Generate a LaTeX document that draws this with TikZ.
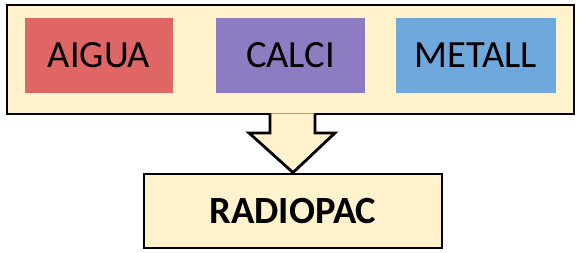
\documentclass[tikz,border=0pt]{standalone}
\usepackage{fontspec}
\setmainfont{Carlito}
\usetikzlibrary{calc}
\definecolor{cream}{HTML}{FFF2CC}
\definecolor{cred}{HTML}{E06666}
\definecolor{cpurple}{HTML}{8E7CC3}
\definecolor{cblue}{HTML}{6FA8DC}
\begin{document}
\begin{tikzpicture}[x=1pt,y=-1pt,
  outerbox/.style={draw=black,line width=2.8pt,fill=cream},
  itembox/.style={draw=none,inner sep=0pt,font=\fontsize{38.5}{38.5}\selectfont},
  resultbox/.style={draw=black,line width=2.8pt,fill=cream,inner sep=0pt,font=\bfseries\fontsize{38.5}{38.5}\selectfont},
  blockarrow/.style={draw=black,line width=2.8pt,fill=cream,line join=miter}]
\useasboundingbox (0,0) rectangle (578,252);
\node[outerbox,minimum width=567pt,minimum height=109pt,inner sep=0pt] (outer) at (290.5,59.5) {};
\node[itembox,fill=cred,minimum width=148pt,minimum height=75pt] (aigua) at (99,55.5) {AIGUA};
\node[itembox,fill=cpurple,minimum width=149pt,minimum height=75pt] (calci) at (290.5,55.5) {CALCI};
\node[itembox,fill=cblue,minimum width=160pt,minimum height=75pt] (metall) at (476,55.5) {METALL};
\node[resultbox,minimum width=298pt,minimum height=74pt] (radio) at (293,211) {RADIOPAC};
\draw[blockarrow] ($(outer.south)+(-20.5,-2)$) -- ($(outer.south)+(-20.5,17.5)$) -- ($(outer.south)+(-41.5,17.5)$)
  -- (radio.north) -- ($(outer.south)+(44.5,17.5)$) -- ($(outer.south)+(24.5,17.5)$) -- ($(outer.south)+(24.5,-2)$);
\end{tikzpicture}
\end{document}
